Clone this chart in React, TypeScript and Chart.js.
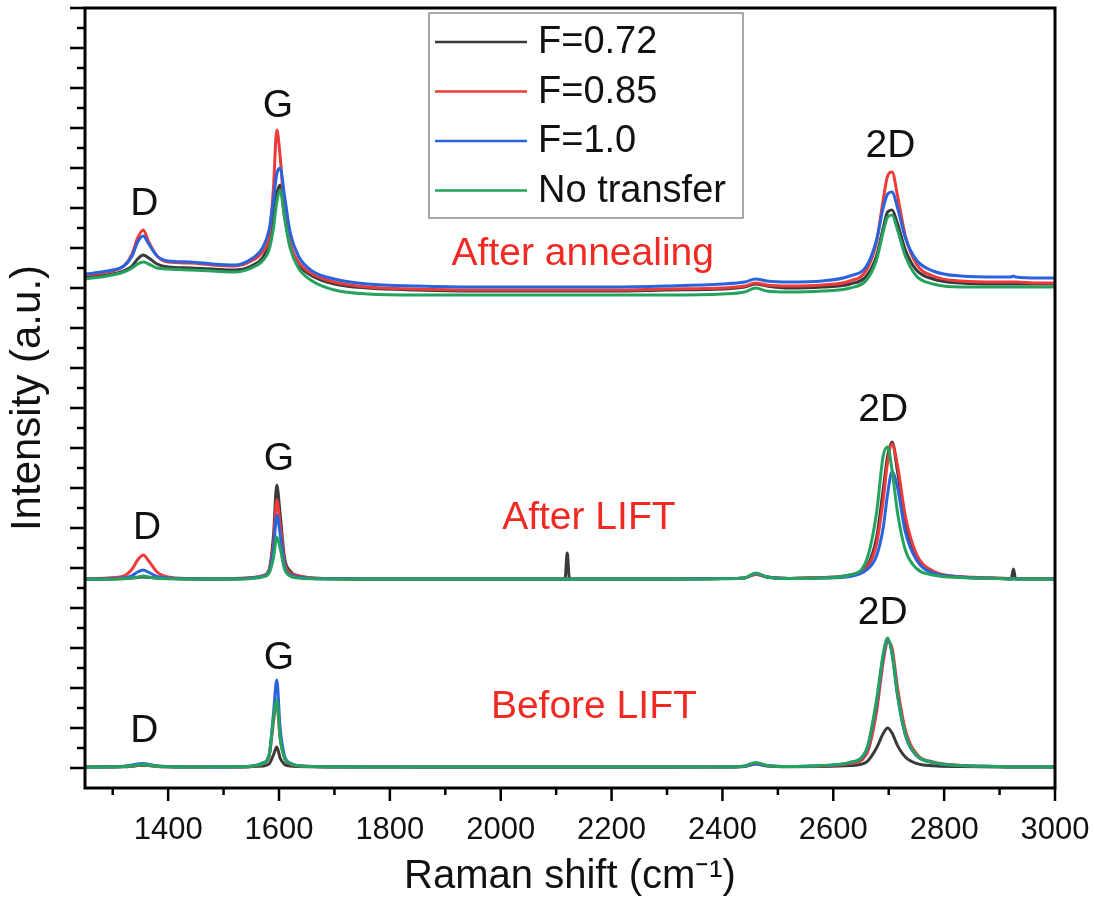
import React, { useEffect, useRef } from 'react';
import { Chart, registerables } from 'chart.js';

Chart.register(...registerables);

const FONT = '"Liberation Sans", Arial, Helvetica, sans-serif';

// Raman shift sampling grid (cm-1)
const RAMAN_SHIFT = [
  1250, 1290, 1320, 1335, 1345, 1355, 1365, 1380, 1400, 1440,
  1480, 1520, 1550, 1570, 1582, 1590, 1596, 1602, 1610, 1620,
  1635, 1660, 1700, 1760, 1850, 1950, 2050, 2116, 2120, 2124,
  2200, 2300, 2400, 2440, 2460, 2480, 2520, 2580, 2630, 2660,
  2678, 2690, 2698, 2706, 2716, 2730, 2750, 2780, 2830, 2900,
  2921, 2925, 2929, 2970, 3000,
];

const X_TICKS = [1400, 1600, 1800, 2000, 2200, 2400, 2600, 2800, 3000];

const SERIES_LABELS = ['F=0.72', 'F=0.85', 'F=1.0', 'No transfer'];
const SERIES_COLORS = ['#3a3a3a', '#ee3a3a', '#2a64dc', '#25a35e'];

// Before LIFT (offset stack, bottom)
const beforeBlack = [
  0.05, 0.05, 0.06, 0.09, 0.12, 0.14, 0.12, 0.08, 0.06, 0.05,
  0.05, 0.05, 0.07, 0.1, 0.2, 0.65, 1.05, 0.5, 0.18, 0.1,
  0.07, 0.06, 0.05, 0.05, 0.04, 0.04, 0.04, 0.04, 0.04, 0.04,
  0.04, 0.04, 0.05, 0.08, 0.2, 0.1, 0.06, 0.07, 0.12, 0.3,
  1.0, 1.72, 2.0, 1.75, 1.12, 0.55, 0.23, 0.11, 0.07, 0.05,
  0.05, 0.05, 0.05, 0.05, 0.05,
];
const beforeRed = [
  0.05, 0.05, 0.07, 0.1, 0.14, 0.16, 0.13, 0.09, 0.06, 0.05,
  0.05, 0.05, 0.08, 0.2, 0.55, 2.3, 3.3, 1.5, 0.5, 0.2,
  0.1, 0.07, 0.05, 0.05, 0.05, 0.05, 0.05, 0.05, 0.05, 0.05,
  0.05, 0.05, 0.05, 0.09, 0.24, 0.12, 0.07, 0.1, 0.22, 0.7,
  2.8, 5.3, 6.3, 6.0, 4.0, 1.9, 0.72, 0.3, 0.13, 0.07,
  0.05, 0.05, 0.05, 0.05, 0.05,
];
const beforeBlue = [
  0.05, 0.06, 0.09, 0.15, 0.2, 0.22, 0.18, 0.11, 0.07, 0.05,
  0.05, 0.06, 0.1, 0.25, 0.65, 2.7, 4.4, 2.0, 0.6, 0.25,
  0.12, 0.08, 0.06, 0.05, 0.05, 0.05, 0.05, 0.05, 0.05, 0.05,
  0.05, 0.05, 0.05, 0.09, 0.22, 0.12, 0.07, 0.12, 0.27, 0.88,
  3.25, 5.55, 6.45, 5.7, 3.6, 1.65, 0.62, 0.27, 0.12, 0.07,
  0.05, 0.05, 0.05, 0.05, 0.05,
];
const beforeGreen = [
  0.04, 0.05, 0.07, 0.11, 0.15, 0.17, 0.14, 0.09, 0.06, 0.05,
  0.05, 0.06, 0.09, 0.22, 0.6, 2.5, 3.4, 1.5, 0.5, 0.22,
  0.11, 0.07, 0.05, 0.05, 0.05, 0.05, 0.05, 0.05, 0.05, 0.05,
  0.05, 0.05, 0.05, 0.1, 0.28, 0.13, 0.07, 0.12, 0.28, 0.95,
  3.4, 5.7, 6.5, 5.75, 3.65, 1.7, 0.65, 0.28, 0.12, 0.07,
  0.05, 0.05, 0.05, 0.05, 0.05,
];

// After LIFT (middle)
const liftBlack = [
  9.45, 9.45, 9.47, 9.5, 9.53, 9.55, 9.53, 9.5, 9.47, 9.45,
  9.45, 9.45, 9.5, 9.6, 9.9, 11.6, 14.15, 12.7, 10.5, 9.85,
  9.6, 9.5, 9.47, 9.45, 9.45, 9.45, 9.45, 9.45, 10.75, 9.45,
  9.45, 9.45, 9.47, 9.5, 9.7, 9.55, 9.48, 9.52, 9.65, 10.07,
  11.5, 13.9, 15.6, 16.3, 14.8, 12.2, 10.5, 9.8, 9.55, 9.48,
  9.45, 9.95, 9.45, 9.45, 9.45,
];
const liftRed = [
  9.45, 9.5, 9.6, 9.95, 10.4, 10.65, 10.35, 9.8, 9.55, 9.47,
  9.45, 9.47, 9.52, 9.6, 9.85, 11.2, 13.4, 12.2, 10.3, 9.75,
  9.62, 9.5, 9.47, 9.45, 9.45, 9.45, 9.45, 9.45, 9.45, 9.45,
  9.45, 9.45, 9.47, 9.5, 9.68, 9.55, 9.48, 9.52, 9.62, 10.0,
  11.2, 13.4, 15.3, 16.2, 15.1, 12.6, 10.7, 9.85, 9.57, 9.5,
  9.48, 9.48, 9.48, 9.47, 9.47,
];
const liftBlue = [
  9.45, 9.46, 9.5, 9.62, 9.8, 9.9, 9.78, 9.58, 9.5, 9.46,
  9.45, 9.46, 9.5, 9.58, 9.8, 10.9, 12.65, 11.7, 10.1, 9.65,
  9.55, 9.48, 9.46, 9.45, 9.45, 9.45, 9.45, 9.45, 9.45, 9.45,
  9.45, 9.45, 9.47, 9.5, 9.72, 9.55, 9.48, 9.5, 9.58, 9.9,
  10.6, 12.0, 13.7, 14.8, 14.0, 11.8, 10.4, 9.75, 9.55, 9.48,
  9.46, 9.46, 9.46, 9.45, 9.45,
];
const liftGreen = [
  9.43, 9.44, 9.46, 9.5, 9.55, 9.6, 9.55, 9.49, 9.46, 9.44,
  9.44, 9.45, 9.48, 9.55, 9.75, 10.5, 11.55, 11.0, 9.95, 9.6,
  9.5, 9.46, 9.44, 9.44, 9.44, 9.44, 9.44, 9.44, 9.44, 9.44,
  9.44, 9.44, 9.46, 9.5, 9.75, 9.55, 9.47, 9.5, 9.65, 10.4,
  12.75, 15.6, 16.05, 14.9, 12.75, 10.9, 9.98, 9.65, 9.52, 9.47,
  9.45, 9.45, 9.45, 9.45, 9.45,
];

// After annealing (top)
const annealBlack = [
  24.55, 24.65, 24.85, 25.1, 25.45, 25.65, 25.5, 25.2, 25.05, 25.0,
  24.95, 24.9, 25.1, 25.5, 26.2, 27.5, 28.7, 29.15, 27.6, 26.2,
  25.2, 24.6, 24.2, 24.0, 23.9, 23.85, 23.85, 23.85, 23.85, 23.85,
  23.85, 23.9, 23.95, 24.05, 24.2, 24.1, 24.0, 24.05, 24.2, 24.6,
  25.6, 27.0, 27.8, 27.9, 27.2, 25.9, 24.9, 24.45, 24.25, 24.2,
  24.2, 24.2, 24.2, 24.2, 24.2,
];
const annealRed = [
  24.65, 24.8, 25.1, 25.7, 26.5, 26.9, 26.3, 25.6, 25.3, 25.25,
  25.15, 25.1, 25.35, 25.8, 26.6, 29.0, 31.9, 30.6, 27.8, 26.2,
  25.3, 24.7, 24.3, 24.05, 23.95, 23.9, 23.9, 23.9, 23.9, 23.9,
  23.9, 23.95, 24.0, 24.1, 24.25, 24.15, 24.1, 24.15, 24.35, 24.9,
  26.3, 28.4, 29.6, 29.8, 28.6, 26.6, 25.2, 24.6, 24.35, 24.3,
  24.3, 24.3, 24.3, 24.25, 24.25,
];
const annealBlue = [
  24.7, 24.85, 25.1, 25.6, 26.3, 26.6, 26.2, 25.6, 25.35, 25.3,
  25.2, 25.15, 25.45, 26.0, 26.9, 28.4, 29.7, 30.0, 28.6, 26.8,
  25.6, 24.85, 24.45, 24.2, 24.1, 24.05, 24.05, 24.05, 24.05, 24.05,
  24.05, 24.1, 24.2, 24.3, 24.45, 24.35, 24.3, 24.35, 24.6, 25.1,
  26.4, 28.0, 28.7, 28.8, 28.0, 26.5, 25.4, 24.85, 24.6, 24.55,
  24.55, 24.6, 24.55, 24.5, 24.5,
];
const annealGreen = [
  24.45, 24.6, 24.8, 25.0, 25.2, 25.3, 25.2, 25.0, 24.95, 24.9,
  24.85, 24.8, 25.0, 25.35, 25.9, 27.0, 28.3, 28.9, 27.5, 26.0,
  25.0, 24.35, 23.9, 23.7, 23.65, 23.65, 23.65, 23.65, 23.65, 23.65,
  23.65, 23.65, 23.7, 23.8, 24.0, 23.85, 23.8, 23.85, 24.0, 24.4,
  25.4, 26.8, 27.55, 27.65, 26.9, 25.6, 24.6, 24.2, 24.05, 24.05,
  24.05, 24.05, 24.05, 24.05, 24.05,
];

// Peak annotations (data coordinates)
const PEAK_LABELS = ['D', 'G', '2D', 'D', 'G', '2D', 'D', 'G', '2D'];
const PEAK_X = [1357, 1598, 2703, 1362, 1600, 2690, 1357, 1600, 2689];
const PEAK_Y = [28.2, 33.1, 31.1, 12.0, 15.45, 17.9, 1.85, 5.5, 7.75];

const STAGE_LABELS = ['After annealing', 'After LIFT', 'Before LIFT'];
const STAGE_X = [2148, 2159, 2168];
const STAGE_Y = [25.7, 12.5, 3.05];

const decorPlugin = {
  id: 'decor',
  afterDraw(chart: any) {
    const { ctx, chartArea } = chart;
    const xs = chart.scales.x;
    const ys = chart.scales.y;
    const { left, right, top, bottom } = chartArea;
    ctx.save();

    // frame
    ctx.strokeStyle = '#000';
    ctx.lineWidth = 3;
    ctx.strokeRect(left, top, right - left, bottom - top);

    // x ticks (major every 200, minor every 100)
    ctx.lineWidth = 2.5;
    ctx.beginPath();
    for (let v = 1300; v <= 3000; v += 100) {
      const px = xs.getPixelForValue(v);
      const len = X_TICKS.includes(v) ? 13 : 7;
      ctx.moveTo(px, bottom);
      ctx.lineTo(px, bottom + len);
    }
    // y ticks (major at even units, minor at odd)
    for (let v = 0; v <= 38; v += 1) {
      const py = ys.getPixelForValue(v);
      const len = v % 2 === 0 ? 15 : 8;
      ctx.moveTo(left, py);
      ctx.lineTo(left - len, py);
    }
    ctx.stroke();

    // peak labels
    ctx.textAlign = 'center';
    ctx.textBaseline = 'middle';
    ctx.fillStyle = '#111';
    ctx.font = `39px ${FONT}`;
    PEAK_LABELS.forEach((t, i) => {
      ctx.fillText(t, xs.getPixelForValue(PEAK_X[i]), ys.getPixelForValue(PEAK_Y[i]));
    });
    ctx.fillStyle = '#f02a22';
    STAGE_LABELS.forEach((t, i) => {
      ctx.fillText(t, xs.getPixelForValue(STAGE_X[i]), ys.getPixelForValue(STAGE_Y[i]));
    });

    // legend box
    const bx = 429, by = 13, bw = 314, bh = 205;
    ctx.fillStyle = '#fff';
    ctx.fillRect(bx, by, bw, bh);
    ctx.strokeStyle = '#8c8c8c';
    ctx.lineWidth = 1.5;
    ctx.strokeRect(bx, by, bw, bh);
    ctx.font = `38px ${FONT}`;
    ctx.textAlign = 'left';
    ctx.fillStyle = '#111';
    SERIES_LABELS.forEach((lab, i) => {
      const y = 42 + i * 49.5;
      ctx.strokeStyle = SERIES_COLORS[i];
      ctx.lineWidth = 2.5;
      ctx.beginPath();
      ctx.moveTo(435, y);
      ctx.lineTo(527, y);
      ctx.stroke();
      ctx.fillText(lab, 538, y + 1);
    });
    ctx.restore();
  },
};

export default function App() {
  const ref = useRef<HTMLCanvasElement>(null);
  useEffect(() => {
    document.body.style.margin = '0';
    const groups = [
      [beforeBlack, beforeRed, beforeBlue, beforeGreen],
      [liftBlack, liftRed, liftBlue, liftGreen],
      [annealBlack, annealRed, annealBlue, annealGreen],
    ];
    const datasets: any[] = [];
    groups.forEach((g) =>
      g.forEach((arr, si) =>
        datasets.push({
          label: SERIES_LABELS[si],
          data: RAMAN_SHIFT.map((x, i) => ({ x, y: arr[i] })),
          borderColor: SERIES_COLORS[si],
          backgroundColor: SERIES_COLORS[si],
          borderWidth: 3,
          pointRadius: 0,
          fill: false,
          cubicInterpolationMode: 'monotone',
          order: 4 - si,
        })
      )
    );
    const chart = new Chart(ref.current as HTMLCanvasElement, {
      type: 'line',
      data: { datasets },
      options: {
        animation: false,
        responsive: false,
        devicePixelRatio: 1,
        layout: { padding: { top: 8, right: 40, left: 0, bottom: 0 } },
        plugins: { legend: { display: false }, tooltip: { enabled: false } },
        scales: {
          x: {
            type: 'linear',
            min: 1250,
            max: 3000,
            grid: { display: false, drawTicks: false },
            border: { display: false },
            afterBuildTicks: (s: any) => {
              s.ticks = X_TICKS.map((v) => ({ value: v }));
            },
            afterFit: (s: any) => {
              s.height = 127;
              s.paddingLeft = 0;
              s.paddingRight = 0;
            },
            ticks: {
              padding: 24,
              maxRotation: 0,
              autoSkip: false,
              color: '#111',
              font: { family: FONT, size: 31 },
              callback: (v: any) => String(v),
            },
            title: {
              display: true,
              text: 'Raman shift (cm⁻¹)',
              color: '#111',
              font: { family: FONT, size: 40 },
              padding: { top: 0, bottom: 14 },
            },
          },
          y: {
            type: 'linear',
            min: -1,
            max: 38,
            grid: { display: false, drawTicks: false },
            border: { display: false },
            ticks: { display: false },
            afterFit: (s: any) => {
              s.width = 85;
            },
            title: {
              display: true,
              text: 'Intensity (a.u.)',
              color: '#111',
              font: { family: FONT, size: 42 },
              padding: { top: 3, bottom: 0 },
            },
          },
        },
      },
      plugins: [decorPlugin],
    });
    return () => chart.destroy();
  }, []);
  return (
    <div style={{ width: 1095, height: 915, background: '#fff' }}>
      <canvas ref={ref} width={1095} height={915} style={{ display: 'block' }} />
    </div>
  );
}
